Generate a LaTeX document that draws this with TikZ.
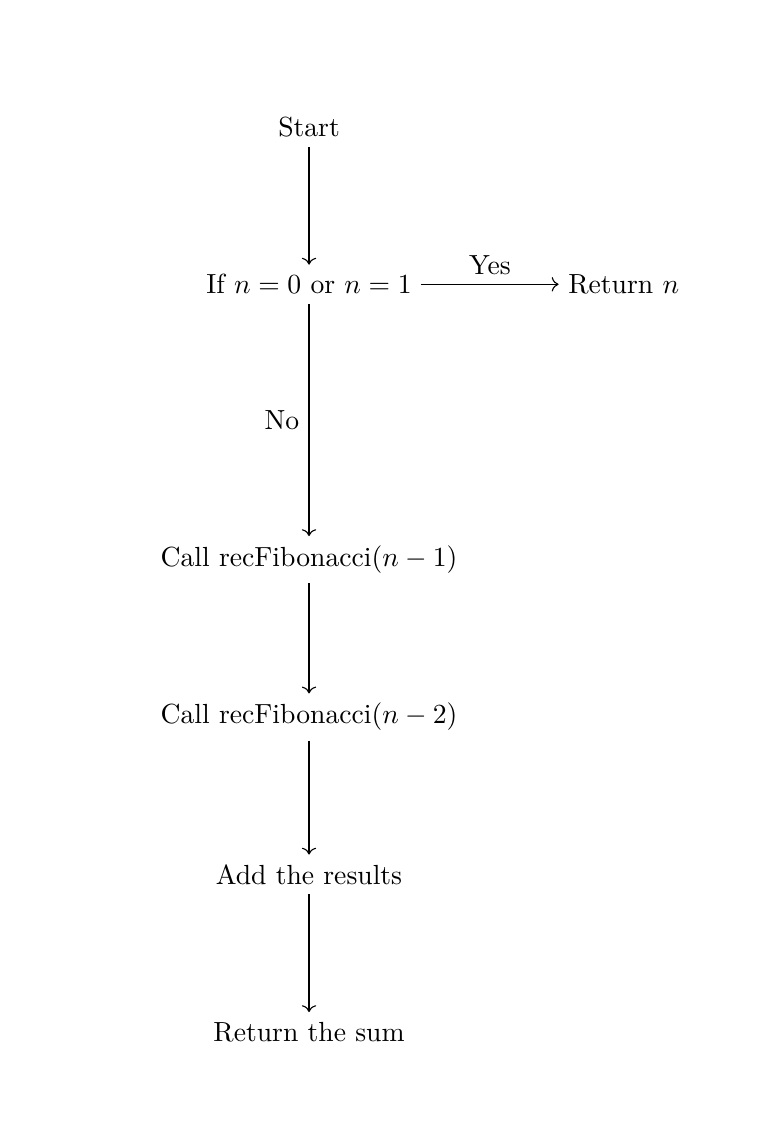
\documentclass[tikz,border=0pt]{standalone}
\usepackage{tikz}
\usetikzlibrary{arrows.meta,arrows,positioning,calc}

\begin{document}
\begin{tikzpicture}[node distance=2cm,%
        on grid,
        auto]

        \useasboundingbox (-3.928,1.614) rectangle (5.872,-12.838);
        %% main line
        \node (start) at(0,0) {Start};
        \node [below=of start] (cond) {If $n=0$ or $n=1$};
        \node [right=4cm of cond] (ret_n) {Return $n$};
        \node [below=3.5cm of cond] (call_1) {Call recFibonacci($n-1$)};
        \node [below=of call_1] (call_2) {Call recFibonacci($n-2$)};
        \node [below=of call_2] (add_res) {Add the results};
        \node [below=of add_res] (ret_sum) {Return the sum};

        \draw[->] (start) -- (cond);
        \draw[->] (cond) -- node {Yes} (ret_n);
        \draw[->] (cond) -- node [swap] {No} (call_1);
        \draw[->] (call_1) -- (call_2);
        \draw[->] (call_2) -- (add_res);
        \draw[->] (add_res) -- (ret_sum);

      \end{tikzpicture}
\end{document}
